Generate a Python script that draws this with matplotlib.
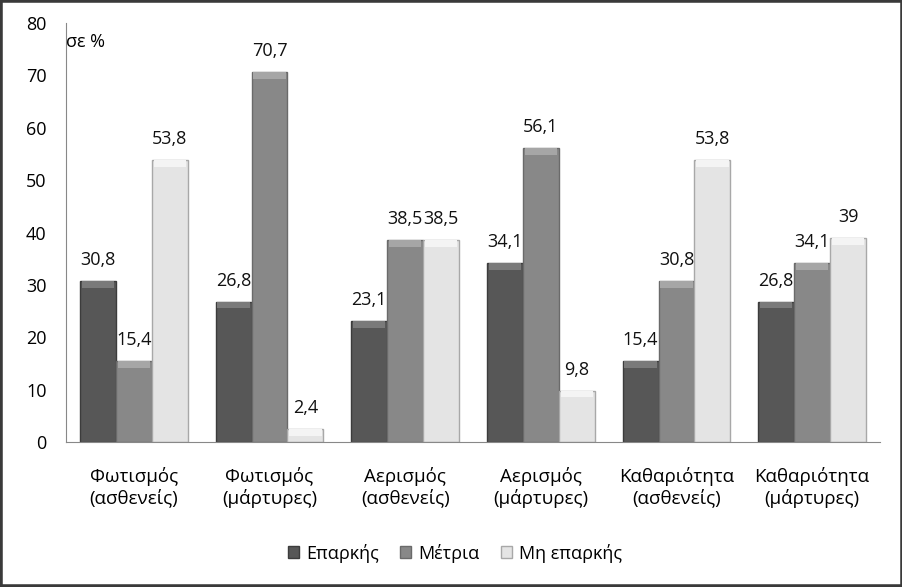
import matplotlib.pyplot as plt
import numpy as np
from matplotlib.patches import Rectangle

plt.rcParams['font.family'] = ['Open Sans', 'DejaVu Sans']

categories = ["Φωτισμός\n(ασθενείς)", "Φωτισμός\n(μάρτυρες)", "Αερισμός\n(ασθενείς)",
              "Αερισμός\n(μάρτυρες)", "Καθαριότητα\n(ασθενείς)", "Καθαριότητα\n(μάρτυρες)"]
series_names = ["Επαρκής", "Μέτρια", "Μη επαρκής"]
eparkis = [30.8, 26.8, 23.1, 34.1, 15.4, 26.8]
metria = [15.4, 70.7, 38.5, 56.1, 30.8, 34.1]
mi_eparkis = [53.8, 2.4, 38.5, 9.8, 53.8, 39]

colors = ["#575757", "#888888", "#e4e4e4"]
tops = ["#7a7a7a", "#a6a6a6", "#f4f4f4"]
edges = ["#3c3c3c", "#6a6a6a", "#a8a8a8"]


def fmt(v):
    s = ("%.1f" % v).rstrip("0").rstrip(".")
    return s.replace(".", ",")


fig = plt.figure(figsize=(9.03, 5.87), dpi=100)
ax = fig.add_axes([0.0731, 0.247, 0.9014, 0.7138])

x = np.arange(len(categories))
w = 0.265
for i, vals in enumerate([eparkis, metria, mi_eparkis]):
    pos = x + (i - 1) * w
    ax.bar(pos, vals, width=w, color=colors[i], edgecolor=edges[i], linewidth=1,
           label=series_names[i], zorder=2)
    # light bevel on the top of each bar
    cap = np.minimum(np.array(vals), 1.3)
    ax.bar(pos, cap, bottom=np.array(vals) - cap, width=w * 0.9, color=tops[i],
           linewidth=0, zorder=3)
    for p, v in zip(pos, vals):
        ax.text(p, v + 2.3, fmt(v), ha="center", va="bottom", fontsize=13, color="#111111")

ax.set_xlim(-0.5, len(categories) - 0.5)
ax.set_ylim(0, 80)
ax.set_yticks(range(0, 81, 10))
ax.set_xticks(x)
ax.set_xticklabels(categories, fontsize=13.5, linespacing=1.2)
ax.tick_params(axis="y", length=0, pad=14, labelsize=13)
ax.tick_params(axis="x", length=0, pad=18)
for s in ["top", "right"]:
    ax.spines[s].set_visible(False)
for s in ["left", "bottom"]:
    ax.spines[s].set_color("#888888")

ax.text(0.0, 0.955, "σε %", transform=ax.transAxes, fontsize=13, ha="left", va="center")

ax.legend(loc="center", bbox_to_anchor=(0.478, -0.265), ncol=3, frameon=False,
          fontsize=13, handlelength=0.6, handleheight=0.6, handletextpad=0.4,
          columnspacing=1.2)

fig.patches.append(Rectangle((0, 0), 1, 1, transform=fig.transFigure, fill=False,
                             edgecolor="#3a3a3a", linewidth=4))

fig.savefig("out.png", dpi=100)
